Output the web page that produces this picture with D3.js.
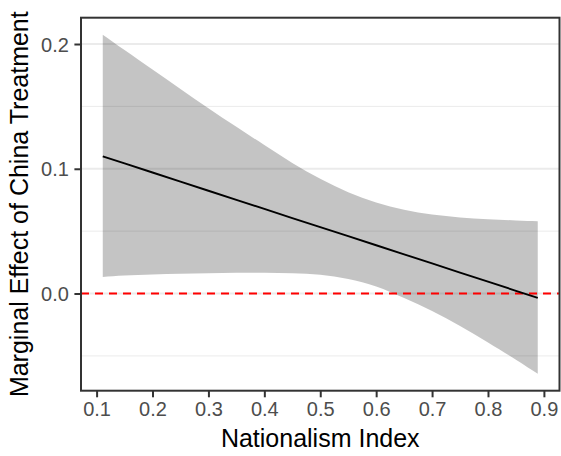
<!DOCTYPE html>
<html>
<head>
<meta charset="utf-8">
<script src="https://cdn.jsdelivr.net/npm/d3@7"></script>
<style>
  body { margin: 0; background: #fff; }
  text { font-family: "Liberation Sans", Arial, Helvetica, sans-serif; }
</style>
</head>
<body>
<script>
//data
var nationalism = [0.111, 0.15, 0.2, 0.25, 0.3, 0.35, 0.4, 0.45, 0.5, 0.55, 0.6, 0.65, 0.7, 0.75, 0.8, 0.85, 0.889];
var effect = [0.1100, 0.1043, 0.0970, 0.0897, 0.0824, 0.0751, 0.0678, 0.0605, 0.0532, 0.0460, 0.0387, 0.0314, 0.0241, 0.0168, 0.0095, 0.0022, -0.0035];
var lower = [0.0133, 0.0144, 0.0152, 0.0158, 0.0163, 0.0166, 0.0167, 0.0163, 0.0150, 0.0117, 0.0057, -0.0036, -0.0140, -0.0260, -0.0392, -0.0530, -0.0643];
var upper = [0.2075, 0.1952, 0.1795, 0.1640, 0.1485, 0.1336, 0.1190, 0.1047, 0.0919, 0.0812, 0.0729, 0.0671, 0.0633, 0.0610, 0.0596, 0.0586, 0.0580];
var xTicks = [0.1, 0.2, 0.3, 0.4, 0.5, 0.6, 0.7, 0.8, 0.9];
var yTicks = [0.0, 0.1, 0.2];
var yMinor = [-0.05, 0.05, 0.15];

var rows = nationalism.map(function (d, i) {
    return { x: d, y: effect[i], lo: lower[i], hi: upper[i] };
});

var width = 561, height = 456;
var m = [17.7, 1.5, 65.3, 81]; //top right bottom left
var w = width - m[1] - m[3],
    h = height - m[0] - m[2];

//scales, ggplot style 5% expansion
var xExt = d3.extent(nationalism);
var xPad = (xExt[1] - xExt[0]) * 0.05;
var x = d3.scaleLinear()
    .domain([xExt[0] - xPad, xExt[1] + xPad])
    .range([0, w]);
var yExt = [d3.min(lower), d3.max(upper)];
var yPad = (yExt[1] - yExt[0]) * 0.05;
var y = d3.scaleLinear()
    .domain([yExt[0] - yPad, yExt[1] + yPad])
    .range([h, 0]);

var svg = d3.select("body")
    .append("svg")
    .attr("width", width)
    .attr("height", height);

var g = svg.append("g")
    .attr("transform", "translate(" + m[3] + "," + m[0] + ")");

//grid lines (horizontal only)
g.append("g").selectAll("line")
    .data(yMinor)
    .enter().append("line")
    .attr("x1", 0).attr("x2", w)
    .attr("y1", function (d) { return y(d); })
    .attr("y2", function (d) { return y(d); })
    .attr("stroke", "#ebebeb")
    .attr("stroke-width", 1);

g.append("g").selectAll("line")
    .data(yTicks)
    .enter().append("line")
    .attr("x1", 0).attr("x2", w)
    .attr("y1", function (d) { return y(d); })
    .attr("y2", function (d) { return y(d); })
    .attr("stroke", "#ebebeb")
    .attr("stroke-width", 2);

//confidence ribbon
var area = d3.area()
    .x(function (d) { return x(d.x); })
    .y0(function (d) { return y(d.lo); })
    .y1(function (d) { return y(d.hi); })
    .curve(d3.curveNatural);

g.append("path")
    .datum(rows)
    .attr("d", area)
    .attr("fill", "#000")
    .attr("fill-opacity", 0.23);

//zero line
g.append("line")
    .attr("x1", 0).attr("x2", w)
    .attr("y1", y(0)).attr("y2", y(0))
    .attr("stroke", "red")
    .attr("stroke-width", 1.9)
    .attr("stroke-dasharray", "8,6");

//marginal effect line
var line = d3.line()
    .x(function (d) { return x(d.x); })
    .y(function (d) { return y(d.y); });

g.append("path")
    .datum(rows)
    .attr("d", line)
    .attr("fill", "none")
    .attr("stroke", "#000")
    .attr("stroke-width", 1.9);

//panel border
g.append("rect")
    .attr("width", w)
    .attr("height", h)
    .attr("fill", "none")
    .attr("stroke", "#333")
    .attr("stroke-width", 2);

//axes
var xAxis = g.append("g")
    .attr("transform", "translate(0," + h + ")")
    .call(d3.axisBottom(x).tickValues(xTicks).tickFormat(d3.format(".1f")).tickSize(6.6).tickPadding(5));
var yAxis = g.append("g")
    .call(d3.axisLeft(y).tickValues(yTicks).tickFormat(d3.format(".1f")).tickSize(6.6).tickPadding(5.5));

[xAxis, yAxis].forEach(function (a) {
    a.select(".domain").remove();
    a.selectAll(".tick line").attr("stroke", "#333").attr("stroke-width", 2);
    a.selectAll(".tick text")
        .attr("fill", "#4d4d4d")
        .style("font-size", "20px");
});
yAxis.selectAll(".tick text").attr("dy", "0.36em");

//axis titles
svg.append("text")
    .attr("x", m[3] + w / 2)
    .attr("y", 447.3)
    .attr("text-anchor", "middle")
    .style("font-size", "25px")
    .attr("fill", "#000")
    .text("Nationalism Index");

svg.append("text")
    .attr("transform", "translate(28.3," + (m[0] + h / 2) + ") rotate(-90)")
    .attr("text-anchor", "middle")
    .style("font-size", "25px")
    .attr("fill", "#000")
    .text("Marginal Effect of China Treatment");
</script>
</body>
</html>
